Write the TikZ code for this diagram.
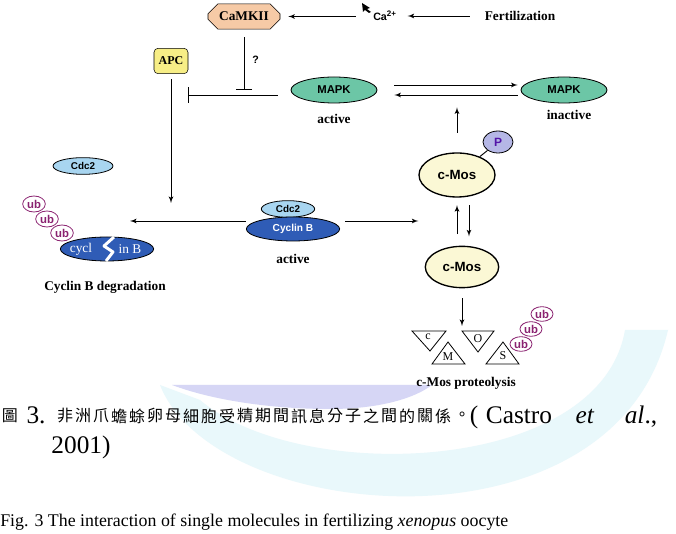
\documentclass[tikz,border=0pt]{standalone}
\usepackage{fontspec}
\setmainfont{Liberation Serif}
\setsansfont{Liberation Sans}
\newfontfamily\cjk{Noto Sans CJK TC}
\usetikzlibrary{shapes,arrows,arrows.meta,positioning}
\definecolor{camkpeach}{HTML}{F6CAA6}
\definecolor{apcyellow}{HTML}{F7EE86}
\definecolor{mapkgreen}{HTML}{6CC6A6}
\definecolor{cdcblue}{HTML}{A8D5F0}
\definecolor{cycblue}{HTML}{2F5CB6}
\definecolor{moscream}{HTML}{FBF8D5}
\definecolor{plavender}{HTML}{B5B7E6}
\definecolor{ubpurple}{HTML}{8A2270}
\definecolor{wmlavender}{HTML}{D6D6F5}
\definecolor{wmcyan}{HTML}{E9F8FB}
\tikzstyle{prot} = [ellipse, draw, inner sep=0pt, line width=0.6pt]
\tikzstyle{mapk} = [prot, fill=mapkgreen, minimum width=64.5pt, minimum height=19.5pt,
    font=\sffamily\bfseries\fontsize{8.5}{9}\selectfont]
\tikzstyle{cdc} = [prot, fill=cdcblue, minimum width=45pt, minimum height=12.5pt,
    font=\sffamily\bfseries\fontsize{7.4}{8}\selectfont]
\tikzstyle{cyc} = [prot, fill=cycblue, text=white, minimum width=70pt, minimum height=18pt,
    font=\sffamily\bfseries\fontsize{7.6}{8}\selectfont]
\tikzstyle{mos} = [prot, fill=moscream, line width=1pt, minimum width=57pt, minimum height=33pt,
    font=\sffamily\bfseries\fontsize{10}{11}\selectfont]
\tikzstyle{ub} = [prot, draw=ubpurple, fill=white, minimum width=17pt, minimum height=12pt,
    text=ubpurple, font=\sffamily\bfseries\fontsize{8.5}{9}\selectfont]
\tikzstyle{camk} = [chamfered rectangle, draw, fill=camkpeach, chamfered rectangle xsep=4pt,
    chamfered rectangle ysep=4pt, minimum width=54pt, minimum height=19pt, inner sep=0pt,
    font=\bfseries\fontsize{10}{12}\selectfont]
\tikzstyle{apcbox} = [rectangle, draw, rounded corners=3pt, fill=apcyellow, minimum width=25.5pt,
    minimum height=19pt, inner sep=0pt, font=\bfseries\fontsize{9}{10}\selectfont]
\tikzstyle{tag} = [inner sep=0pt, font=\bfseries\fontsize{10}{12}\selectfont]
\tikzstyle{small} = [inner sep=0pt, font=\sffamily\bfseries\fontsize{8}{9}\selectfont]
\tikzstyle{letter} = [inner sep=0pt, font=\fontsize{9}{10}\selectfont]
\tikzstyle{line} = [draw, line width=0.7pt, -latex']
\tikzstyle{inhibit} = [draw, line width=0.7pt, -{Bar[width=12pt]}]
\tikzstyle{capt} = [inner sep=0pt, anchor=base, font=\fontsize{19}{22}\selectfont]
\tikzstyle{zh} = [inner sep=0pt, font=\cjk\fontsize{12}{13}\selectfont]

\begin{document}
\begin{tikzpicture}[x=0.75pt, y=-0.75pt]
	\useasboundingbox (0,0) rectangle (676,534);
	\fill[white] (0,0) rectangle (676,534);
	% Watermark
	\fill[wmcyan] (160,385) .. controls (215,525) and (615,560) .. (668,330)
		-- (625,330) .. controls (600,475) and (300,485) .. (200,400) -- cycle;
	\fill[wmlavender] (172,385) -- (432,385) .. controls (415,398) and (380,409) .. (330,409)
		.. controls (270,409) and (212,400) .. cycle;
	% Place nodes
	\node [camk] (camk) at (244,16.5) {CaMKII};
	\node [small] (ca) at (385,16) {Ca\textsuperscript{2+}};
	\node [tag] (fert) at (520,16) {Fertilization};
	\node [apcbox] (apc) at (171,61) {APC};
	\node [mapk] (mapka) at (334,90) {MAPK};
	\node [tag, below=7.8pt of mapka] (act1) {active};
	\node [mapk] (mapki) at (564,90) {MAPK};
	\node [tag, below=4.8pt of mapki, xshift=3.75pt] (inact) {inactive};
	\node [cdc] (cdcl) at (83,166) {Cdc2};
	\node [cyc] (cycbr) at (107,249) {};
	\node [letter, text=white, font=\fontsize{10}{11}\selectfont] (cyl1) at (81,249) {cycl};
	\node [letter, text=white, font=\fontsize{10}{11}\selectfont] (cyl2) at (130,249) {in B};
	\node [ub] (ubl1) at (34,204) {ub};
	\node [ub] (ubl2) at (47,219) {ub};
	\node [ub] (ubl3) at (62,233) {ub};
	\node [tag, below=15pt of cycbr, xshift=-1.5pt] (deg) {Cyclin B degradation};
	\node [cdc, minimum width=40pt] (cdcc) at (288,209) {Cdc2};
	\node [cyc] (cycb) at (293,229) {Cyclin B};
	\node [tag, below=9.3pt of cycb] (act2) {active};
	\node [mos] (cmosp) at (457,175) {c-Mos};
	\node [prot, fill=plavender, minimum width=22.5pt, minimum height=16.5pt, text=ubpurple!60!blue,
		font=\sffamily\bfseries\fontsize{9}{10}\selectfont] (pp) at (498,142) {P};
	\node [mos, minimum width=55pt, minimum height=31pt] (cmos) at (462,267) {c-Mos};
	\node [ub, minimum width=16.5pt, minimum height=11pt] (ubr3) at (542,314) {ub};
	\node [ub, minimum width=16.5pt, minimum height=11pt] (ubr2) at (531,329) {ub};
	\node [tag] (prot) at (466,383) {c-Mos proteolysis};
	\coordinate (apcend) at (171,203);
	\coordinate (degr) at (130,221);
	\coordinate (frag) at (462,326);
	% Fragments of c-Mos
	\draw[line width=0.6pt, fill=white] (412,331) -- (446,331) -- (430,351) -- cycle;
	\draw[line width=0.6pt, fill=white] (448,342) -- (465,364) -- (432,364) -- cycle;
	\draw[line width=0.6pt, fill=white] (462,331) -- (494,331) -- (478,352) -- cycle;
	\draw[line width=0.6pt, fill=white] (503,342) -- (519,364) -- (486,364) -- cycle;
	\node [letter] (fc) at (428,337) {c};
	\node [letter] (fm) at (448,357) {M};
	\node [letter] (fo) at (478,339) {O};
	\node [letter] (fs) at (503,356) {S};
	\node [ub, minimum width=16.5pt, minimum height=11pt] (ubr1) at (521,344) {ub};
	% Broken cyclin
	\draw[white, line width=2.2pt, line join=round] (114,237) -- (104,246) -- (113,252) -- (106,261);
	% Cursor
	\fill (362,3) -- (370,8) -- (367,9) -- (371,12) -- (369,13) -- (365,10) -- (363,12) -- cycle;
	% Draw edges
	\path [line, shorten <=11pt, shorten >=8pt] (fert.west) -- (ca.east |- fert.west);
	\path [line, shorten <=13pt, shorten >=6pt] (ca.west |- camk.east) -- (camk.east);
	\path [inhibit, shorten <=6pt] (camk.south) -- node [small, right=6pt, pos=0.5] (q) {?} (camk.south |- mapka.center);
	\path [inhibit, shorten <=9.75pt] ([yshift=-3.75pt]mapka.west) -- ([yshift=-3.75pt]mapka.west -| apc.east);
	\path [line, shorten <=4pt] (apc.south) -- (apcend);
	\path [line] (cycb.west |- degr) -- (degr);
	\path [line, shorten <=4pt] (cycb.east |- degr) -- (cmosp.west |- degr);
	\path [line, shorten <=12.75pt, shorten >=2.25pt] ([yshift=3.75pt]mapka.east) -- ([yshift=3.75pt]mapka.east -| mapki.west);
	\path [line, shorten <=2.25pt, shorten >=12.75pt] ([yshift=-3.75pt]mapka.east -| mapki.west) -- ([yshift=-3.75pt]mapka.east);
	\path [line, shorten <=14.6pt, shorten >=3pt] (cmosp.north) -- (cmosp.north |- mapka.south);
	\draw [line width=0.7pt] (pp) -- (cmosp);
	\path [line, shorten <=8.6pt, shorten >=5.6pt] (cmosp.south |- cmos.north) -- (cmosp.south);
	\path [line, shorten <=5.6pt, shorten >=7pt] ([xshift=9pt]cmosp.south) -- ([xshift=9pt]cmosp.south |- cmos.north);
	\path [line, shorten <=7.5pt] (cmos.south) -- (frag);
	% Caption
	\node [zh] (fig) at (10,416) {圖};
	\node [capt] (num) at (36,424) {3.};
	\foreach \ch [count=\i from 0] in {非,洲,爪,蟾,蜍,卵,母,細,胞,受,精,期,間,訊,息,分,子,之,間,的,關,係}
		\node [zh] (zh\i) at ({65+18*\i},416) {\ch};
	\node [zh] (stop) at (462,416) {。};
	\node [capt] (par) at (474,424) {(};
	\node [capt] (cas) at (519,424) {Castro};
	\node [capt] (etal) at (585,424) {\textit{et}};
	\node [capt] (al) at (641,424) {\textit{al}.,};
	\node [capt] (yr) at (81,454) {2001)};
	\node [capt, anchor=base west, font=\fontsize{13.4}{16}\selectfont] (eng) at (0,527)
		{Fig. 3 The interaction of single molecules in fertilizing \textit{xenopus} oocyte};
\end{tikzpicture}
\end{document}
